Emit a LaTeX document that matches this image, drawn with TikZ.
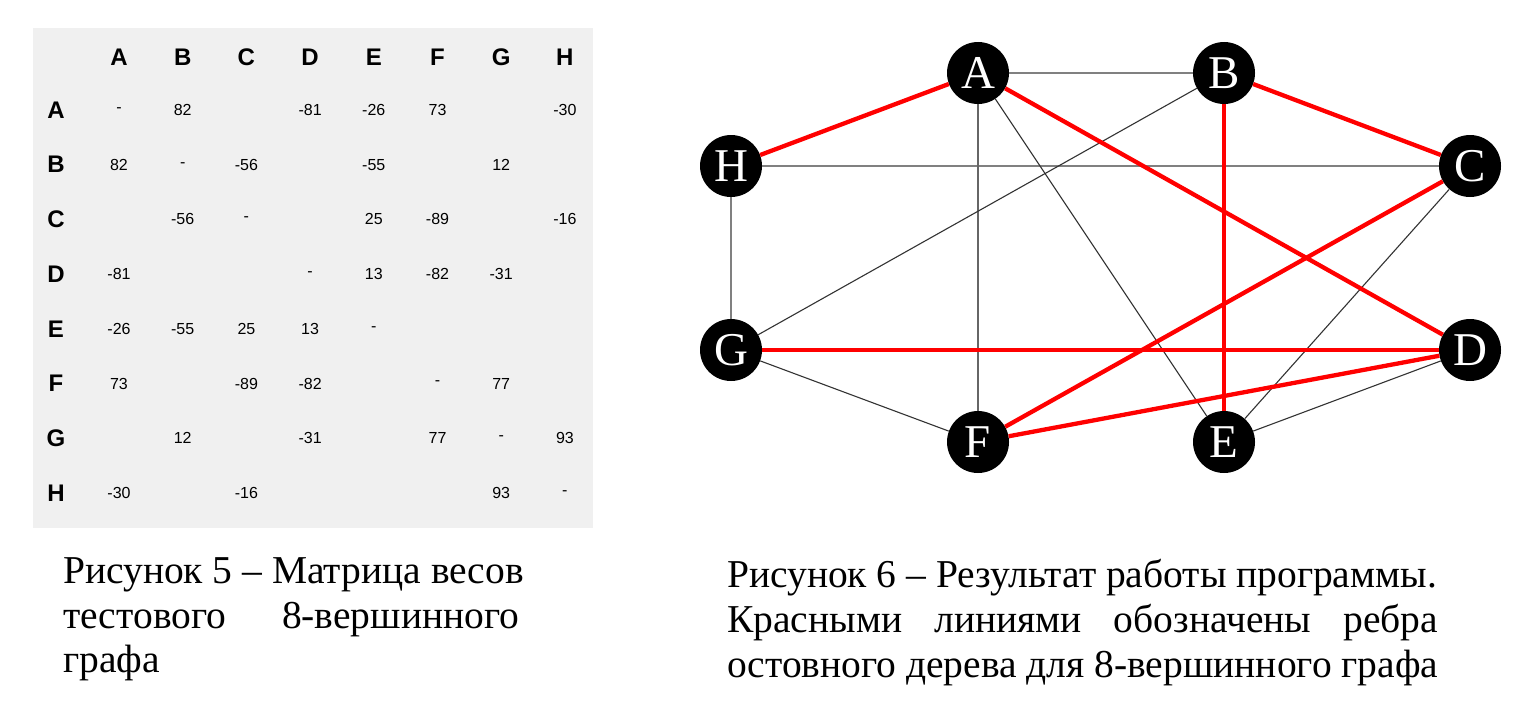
\documentclass[tikz,border=0pt]{standalone}
\usepackage{fontspec}
\setmainfont{Liberation Serif}
\newfontfamily\tabfont{Liberation Sans}
\begin{document}
\begin{tikzpicture}[x=1pt,y=-1pt,
  vtx/.style={circle,fill=black,minimum size=62pt,inner sep=0pt,text=white,font=\fontsize{47}{47}\selectfont},
  tree/.style={draw=red,line width=4.3pt},
  thinedge/.style={draw=black!80,line width=1.1pt},
  greyedge/.style={draw=black!50,line width=2pt},
  hdr/.style={font=\tabfont\bfseries\fontsize{24}{24}\selectfont,inner sep=0pt},
  cell/.style={font=\tabfont\fontsize{16}{16}\selectfont,inner sep=0pt},
  captxt/.style={font=\fontsize{39.5}{39.5}\selectfont,anchor=base west,inner sep=0pt}]
\useasboundingbox (0,0) rectangle (1523,709);
\fill[white] (0,0) rectangle (1523,709);
% matrix background
\fill[black!6] (33,28) rectangle (593,528);
\foreach \l [count=\i] in {A,B,C,D,E,F,G,H}{
  \node[hdr] (col-\l) at ({119+(\i-1)*63.7},57) {\l};
  \node[hdr] (row-\l) at (56,{110+(\i-1)*54.7}) {\l};
}
\foreach \r/\row in {1/{-,82,,-81,-26,73,,-30},2/{82,-,-56,,-55,,12,},3/{,-56,-,,25,-89,,-16},4/{-81,,,-,13,-82,-31,},5/{-26,-55,25,13,-,,,},6/{73,,-89,-82,,-,77,},7/{,12,,-31,,77,-,93},8/{-30,,-16,,,,93,-}}{
  \foreach \v [count=\c] in \row {
    \node[cell] (cell-\r-\c) at ({119+(\c-1)*63.7},{110+(\r-1)*54.7}) {\v};
  }
}
% graph vertices
\node[vtx] (A) at (978,73) {A};
\node[vtx] (B) at (1224,73) {B};
\node[vtx] (C) at (1470,166) {C};
\node[vtx] (D) at (1470,350) {D};
\node[vtx] (E) at (1224,442) {E};
\node[vtx] (F) at (978,442) {F};
\node[vtx] (G) at (731,350) {G};
\node[vtx] (H) at (731,166) {H};
% grey edges
\draw[greyedge] (A) -- (B);
\draw[greyedge] (H) -- (C);
\draw[greyedge] (H) -- (G);
\draw[draw=black!60,line width=1.4pt] (A) -- (F);
\draw[thinedge] (A) -- (E);
\draw[thinedge] (B) -- (G);
\draw[thinedge] (G) -- (F);
\draw[thinedge] (C) -- (E);
\draw[thinedge] (D) -- (E);
% spanning tree edges
\draw[tree] (H) -- (A);
\draw[tree] (A) -- (D);
\draw[tree] (B) -- (C);
\draw[tree] (B) -- (E);
\draw[tree] (C) -- (F);
\draw[tree] (G) -- (D);
\draw[tree] (F) -- (D);
% captions
\node[captxt] (l1) at (63,583) {Рисунок 5 – Матрица весов};
\node[captxt] (l2) at (63,628) {\makebox[456pt][s]{тестового 8-вершинного}};
\node[captxt] (l3) at (63,672) {графа};
\node[captxt] (r1) at (727,587) {Рисунок 6 – Результат работы программы.};
\node[captxt] (r2) at (727,632) {\makebox[711pt][s]{Красными линиями обозначены ребра}};
\node[captxt] (r3) at (727,677) {остовного дерева для 8-вершинного графа};
\end{tikzpicture}
\end{document}
